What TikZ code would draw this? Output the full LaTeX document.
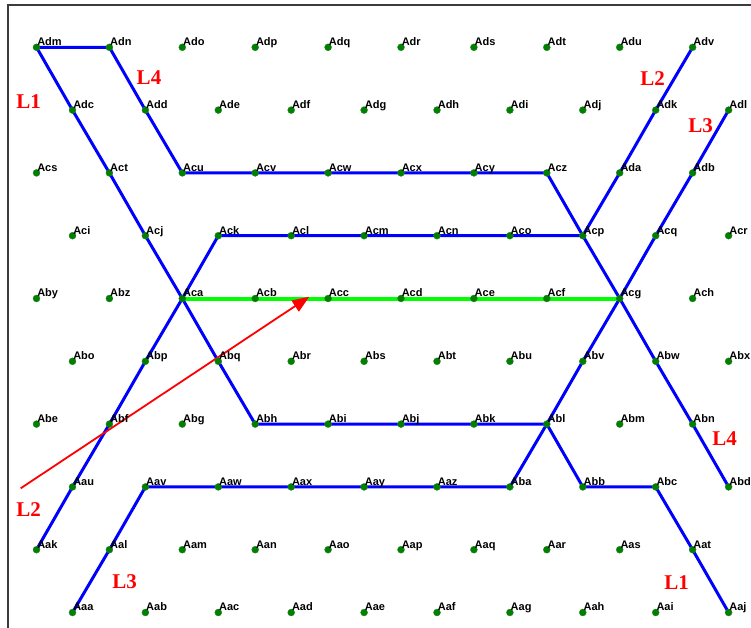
\documentclass[tikz,border=0pt]{standalone}
\usepackage{fontspec}
\setmainfont{Liberation Serif}
\newfontfamily\labfont{Liberation Sans}
\newfontfamily\redfont{Liberation Serif Bold}
\usetikzlibrary{arrows.meta}
\pgfdeclarelayer{back}
\pgfdeclarelayer{bg}
\pgfsetlayers{back,bg,main}
\definecolor{dotgreen}{RGB}{0,128,0}
\definecolor{framegray}{RGB}{60,60,60}
\begin{document}
\begin{tikzpicture}[x=1pt,y=-1pt,
  dot/.style={circle,fill=dotgreen,draw=dotgreen!70!gray,line width=0.3pt,inner sep=0pt,minimum size=7pt},
  lab/.style={font=\labfont\bfseries\fontsize{11}{12}\selectfont,inner sep=0pt,anchor=base west},
  route/.style={draw=blue,line width=3pt,line join=round},
  sel/.style={draw=green,line width=4pt},
  pointer/.style={draw=red,line width=1.8pt,-{Triangle[length=17pt,width=13pt]}},
  rlab/.style={text=red,font=\redfont\fontsize{21}{23}\selectfont,inner sep=0pt},
  framestyle/.style={draw=framegray,line width=1.5pt}]
\useasboundingbox (0,0) rectangle (751,628);
\begin{pgfonlayer}{back}
  \fill[white] (0,0) rectangle (751,628);
  \coordinate (fb) at (8,640);
  \coordinate (fc) at (8,5);
  \coordinate (fr) at (760,5);
  \draw[framestyle] (fb) -- (fc) -- (fr);
\end{pgfonlayer}
\foreach \row [count=\r from 0] in {%
  {Adm,Adn,Ado,Adp,Adq,Adr,Ads,Adt,Adu,Adv},%
  {Adc,Add,Ade,Adf,Adg,Adh,Adi,Adj,Adk,Adl},%
  {Acs,Act,Acu,Acv,Acw,Acx,Acy,Acz,Ada,Adb},%
  {Aci,Acj,Ack,Acl,Acm,Acn,Aco,Acp,Acq,Acr},%
  {Aby,Abz,Aca,Acb,Acc,Acd,Ace,Acf,Acg,Ach},%
  {Abo,Abp,Abq,Abr,Abs,Abt,Abu,Abv,Abw,Abx},%
  {Abe,Abf,Abg,Abh,Abi,Abj,Abk,Abl,Abm,Abn},%
  {Aau,Aav,Aaw,Aax,Aay,Aaz,Aba,Abb,Abc,Abd},%
  {Aak,Aal,Aam,Aan,Aao,Aap,Aaq,Aar,Aas,Aat},%
  {Aaa,Aab,Aac,Aad,Aae,Aaf,Aag,Aah,Aai,Aaj}} {
  \foreach \n [count=\i from 0] in \row {
    \pgfmathsetmacro\xx{36.5+72.9*\i+36*mod(\r,2)}
    \pgfmathsetmacro\yy{47.3+62.8*\r}
    \node[dot] (\n) at (\xx,\yy) {};
    \node[lab] (\n-t) at ([xshift=0.6pt,yshift=1.6pt]\n.center) {\n};
  }
}
\begin{pgfonlayer}{bg}
  % L1
  \draw[route] (Adn.center) -- (Adm.center) -- (Adc.center) -- (Act.center) -- (Acj.center) -- (Aca.center) -- (Abq.center) -- (Abh.center) -- (Abl.center) -- (Abb.center) -- (Abc.center) -- (Aat.center) -- (Aaj.center);
  % L4
  \draw[route] (Adn.center) -- (Add.center) -- (Acu.center) -- (Acz.center) -- (Acp.center) -- (Acg.center) -- (Abw.center) -- (Abn.center) -- (Abd.center);
  % L2
  \draw[route] (Adv.center) -- (Adk.center) -- (Ada.center) -- (Acp.center) -- (Ack.center) -- (Aca.center) -- (Abp.center) -- (Abf.center) -- (Aau.center) -- (Aak.center);
  % L3
  \draw[route] (Adl.center) -- (Adb.center) -- (Acq.center) -- (Acg.center) -- (Abv.center) -- (Abl.center) -- (Aba.center) -- (Aav.center) -- (Aal.center) -- (Aaa.center);
  % selected segment
  \draw[sel] (Aca.center) -- (Acg.center);
  % pointer
  \coordinate (ar0) at (20.7,488.3);
  \coordinate (ar1) at (309.3,296.7);
  \draw[pointer] (ar0) -- (ar1);
\end{pgfonlayer}
\node[rlab] (l1a) at (28.7,102) {L1};
\node[rlab] (l4a) at (149,78) {L4};
\node[rlab] (l2a) at (652.7,79) {L2};
\node[rlab] (l3a) at (700.7,125.7) {L3};
\node[rlab] (l2b) at (28.7,510) {L2};
\node[rlab] (l3b) at (124.7,581.7) {L3};
\node[rlab] (l1b) at (676.7,583) {L1};
\node[rlab] (l4b) at (724.7,438.7) {L4};
\end{tikzpicture}
\end{document}
